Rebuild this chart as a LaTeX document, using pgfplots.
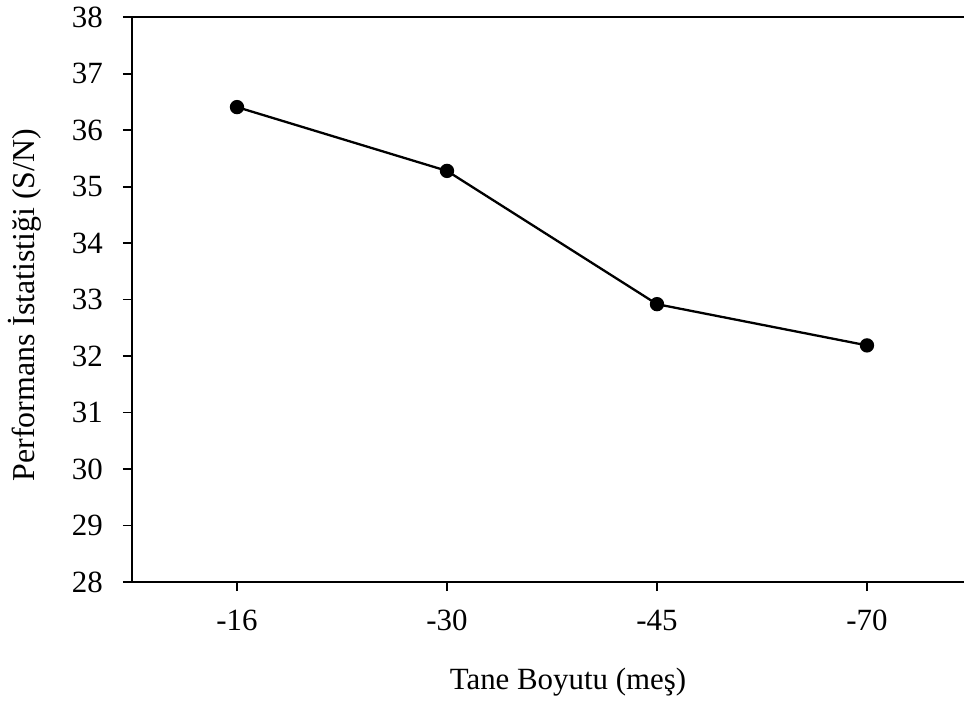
\documentclass[border=0pt]{standalone}
\usepackage{fontspec}
\setmainfont{Liberation Serif}
\usepackage{pgfplots}
\pgfplotsset{compat=1.18}
\begin{document}
\begin{tikzpicture}
\begin{axis}[
 at={(0,0)}, anchor=south west,
 width=832bp, height=564.7bp, scale only axis,
 xmin=-0.5, xmax=3.462, ymin=28, ymax=38,
 xtick={0,1,2,3}, xticklabels={-16,-30,-45,-70},
 ytick={28,29,...,38},
 axis lines*=left,
 axis line style={line width=2bp},
 tick style={line width=1.6bp, black},
 major tick length=9bp,
 tick align=outside,
 font=\fontsize{31pt}{37pt}\selectfont,
 /pgf/number format/assume math mode=true,
 xticklabel style={anchor=base, inner sep=0pt, yshift=-39.7bp},
 yticklabel style={anchor=east, inner sep=0pt, xshift=-20bp},
 xlabel={Tane Boyutu (meş)},
 ylabel={Performans İstatistiği (S/N)},
 xlabel style={at={(axis description cs:0.524,-0.190)}, anchor=base, inner sep=0pt, font=\fontsize{31pt}{37pt}\selectfont},
 ylabel style={at={(axis description cs:-0.1166,0.4905)}, anchor=base, inner sep=0pt, font=\fontsize{32pt}{38pt}\selectfont},
 clip=false,
]
\addplot[black, line width=2.3bp, mark=*, mark size=6bp] coordinates {
 (0,36.41) (1,35.28) (2,32.92) (3,32.19)
};
\draw[line width=2bp] (rel axis cs:0,1) -- (rel axis cs:1,1);
\end{axis}
\pgfresetboundingbox
\path[use as bounding box] (-132bp,-122bp) rectangle (832bp,582bp);
\end{tikzpicture}
\end{document}
